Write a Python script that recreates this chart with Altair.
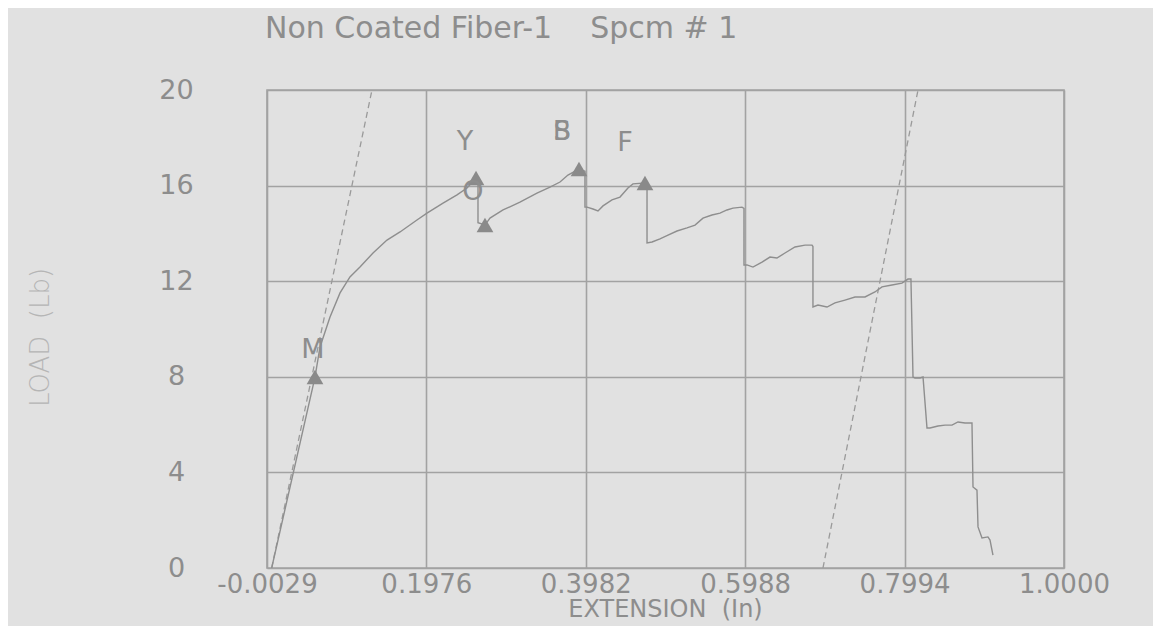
import altair as alt
import pandas as pd

# ---- data ----
ext = [0.0030, 0.0575, 0.0638, 0.0764, 0.0890, 0.1015, 0.1141, 0.1305, 0.1481, 0.1645,
       0.1858, 0.1984, 0.2186, 0.2362, 0.2488, 0.2601, 0.2626, 0.2626, 0.2714, 0.2777,
       0.2941, 0.3154, 0.3368, 0.3532, 0.3658, 0.3758, 0.3872, 0.3897, 0.3972, 0.3972,
       0.3998, 0.4073, 0.4136, 0.4199, 0.4312, 0.4413, 0.4513, 0.4576, 0.4727, 0.4753,
       0.4753, 0.4816, 0.4916, 0.5017, 0.5130, 0.5256, 0.5357, 0.5457, 0.5570, 0.5671,
       0.5759, 0.5835, 0.5948, 0.5973, 0.5973, 0.6011, 0.6086, 0.6200, 0.6300, 0.6388,
       0.6489, 0.6615, 0.6741, 0.6829, 0.6841, 0.6841, 0.6904, 0.7018, 0.7118, 0.7244,
       0.7370, 0.7496, 0.7621, 0.7710, 0.7835, 0.7961, 0.8037, 0.8074, 0.8100, 0.8125,
       0.8188, 0.8226, 0.8276, 0.8314, 0.8414, 0.8502, 0.8590, 0.8666, 0.8754, 0.8842,
       0.8855, 0.8905, 0.8918, 0.8968, 0.9043, 0.9069, 0.9106]
load = [0.00, 7.99, 9.25, 10.50, 11.51, 12.18, 12.59, 13.18, 13.72, 14.06,
        14.56, 14.85, 15.27, 15.61, 15.90, 16.32, 16.25, 14.45, 14.35, 14.64,
        14.98, 15.31, 15.69, 15.94, 16.15, 16.44, 16.65, 16.69, 16.60, 15.10,
        15.10, 15.02, 14.94, 15.15, 15.40, 15.52, 15.90, 16.07, 16.11, 16.05,
        13.60, 13.64, 13.77, 13.93, 14.10, 14.23, 14.35, 14.64, 14.77, 14.85,
        14.98, 15.06, 15.10, 15.05, 12.68, 12.68, 12.59, 12.80, 13.01, 12.97,
        13.18, 13.43, 13.51, 13.51, 13.45, 10.92, 11.00, 10.92, 11.09, 11.21,
        11.34, 11.34, 11.55, 11.76, 11.84, 11.92, 12.09, 12.09, 7.99, 7.95,
        7.95, 7.99, 5.86, 5.86, 5.94, 5.98, 5.98, 6.11, 6.07, 6.07,
        3.39, 3.26, 1.72, 1.26, 1.30, 1.17, 0.54]

# dashed modulus / offset lines (two endpoints each)
dash_id = ["modulus", "modulus", "offset", "offset"]
dash_ext = [0.0030, 0.1292, 0.6967, 0.8163]
dash_load = [0.0, 20.0, 0.0, 20.0]

# triangle markers
mark_ext = [0.0575, 0.2601, 0.2714, 0.3897, 0.4727]
mark_load = [7.99, 16.32, 14.35, 16.69, 16.11]

# point labels
lab_text = ["M", "Y", "O", "B", "S", "F"]
lab_ext = [0.0550, 0.2462, 0.2563, 0.3683, 0.3683, 0.4476]
lab_load = [9.12, 17.82, 15.73, 18.24, 18.24, 17.78]

x_ticks = [-0.0029, 0.1976, 0.3982, 0.5988, 0.7994, 1.0000]
y_ticks = [0, 4, 8, 12, 16, 20]

NB = "\u00a0"
TITLE = "Non Coated Fiber-1" + NB * 4 + "Spcm # 1"
X_TITLE = "EXTENSION" + NB * 2 + "(In)"
Y_TITLE = "LOAD" + NB * 2 + "(Lb)"

BG = "#e1e1e1"
INK = "#8d8d8d"
GRID = "#a2a2a2"
FONT = "DejaVu Sans"

curve_df = pd.DataFrame({"ext": ext, "load": load, "i": range(len(ext))})
dash_df = pd.DataFrame({"id": dash_id, "ext": dash_ext, "load": dash_load})
mark_df = pd.DataFrame({"ext": mark_ext, "load": mark_load})
lab_df = pd.DataFrame({"t": lab_text, "ext": lab_ext, "load": lab_load})

xscale = alt.Scale(domain=[-0.0029, 1.0], nice=False, zero=False)
yscale = alt.Scale(domain=[0, 20], nice=False, zero=False)

xaxis = alt.Axis(values=x_ticks, title=X_TITLE,
                 labelExpr="datum.value < 0 ? '-' + format(-datum.value, '.4f') : format(datum.value, '.4f')",
                 labelFlush=False, labelOverlap=False, tickSize=0, labelPadding=3,
                 labelBaseline="top", labelFontSize=26, labelColor=INK, labelFont=FONT,
                 titleFontSize=24, titleColor=INK, titleFont=FONT, titleFontWeight="normal",
                 titleX=398, titleY=41, titleAlign="center", titleBaseline="middle",
                 domain=False, grid=True, gridColor=GRID, gridWidth=1.6, gridOpacity=1)
yaxis = alt.Axis(values=y_ticks, format="d", title=Y_TITLE,
                 labelOverlap=False, tickSize=0, labelPadding=91, labelAlign="center",
                 labelBaseline="middle", labelFontSize=27, labelColor=INK, labelFont=FONT,
                 titleFontSize=26, titleColor="#b5b5b5", titleFont=FONT, titleFontWeight=300,
                 titleAngle=270, titleX=-227, titleY=247, titleAlign="center",
                 titleBaseline="middle",
                 domain=False, grid=True, gridColor=GRID, gridWidth=1.6, gridOpacity=1)

curve = alt.Chart(curve_df).mark_line(color="#8e8e8e", strokeWidth=1.4, clip=True).encode(
    x=alt.X("ext:Q", scale=xscale, axis=xaxis),
    y=alt.Y("load:Q", scale=yscale, axis=yaxis),
    order="i:Q",
)

dashed = alt.Chart(dash_df).mark_line(color="#9a9a9a", strokeWidth=1.3,
                                      strokeDash=[6, 4], clip=True).encode(
    x=alt.X("ext:Q", scale=xscale),
    y=alt.Y("load:Q", scale=yscale),
    detail="id:N",
)

tri = alt.Chart(mark_df).mark_point(shape="triangle-up", filled=True, size=280,
                                    color="#8a8a8a", opacity=1).encode(
    x=alt.X("ext:Q", scale=xscale),
    y=alt.Y("load:Q", scale=yscale),
)

labels = alt.Chart(lab_df).mark_text(font=FONT, fontSize=27, color=INK,
                                     align="center", baseline="middle").encode(
    x=alt.X("ext:Q", scale=xscale),
    y=alt.Y("load:Q", scale=yscale),
    text="t:N",
)

chart = alt.layer(dashed, curve, tri, labels).properties(
    width=797,
    height=478,
    autosize=alt.AutoSizeParams(type="none"),
    padding={"left": 259, "top": 82, "right": 89, "bottom": 58},
    background=BG,
    title=alt.TitleParams(TITLE, anchor="start", frame="group",
                          fontSize=30, font=FONT, color=INK, fontWeight="normal",
                          baseline="alphabetic", offset=8, dx=-2),
).configure_view(stroke=GRID, strokeWidth=1.6)

chart.save("out.html", embed_options={"renderer": "svg", "actions": False})
